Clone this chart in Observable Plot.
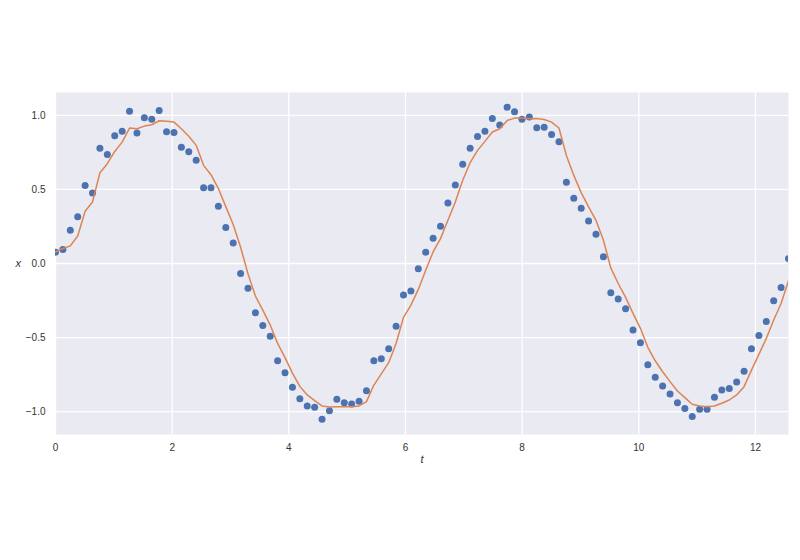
<!DOCTYPE html>
<html>
<head>
<meta charset="utf-8">
<script src="https://cdn.jsdelivr.net/npm/d3@7"></script>
<script src="https://cdn.jsdelivr.net/npm/@observablehq/plot@0.6"></script>
<style>
  html, body { margin: 0; padding: 0; background: #ffffff; }
  #chart svg { display: block; }
</style>
</head>
<body>
<div id="chart"></div>
<script>
// Measurement index 0..99, sampled evenly over t in [0, 4π]
const nSamples = 100;
const tMax = 4 * Math.PI;

// Observed (noisy) values — blue dots
const observed = [
  0.076, 0.094, 0.225, 0.315, 0.526, 0.476, 0.778, 0.737, 0.863, 0.894,
  1.029, 0.881, 0.984, 0.975, 1.034, 0.890, 0.885, 0.786, 0.755, 0.697,
  0.512, 0.512, 0.386, 0.243, 0.139, -0.067, -0.168, -0.333, -0.418, -0.492,
  -0.657, -0.738, -0.836, -0.913, -0.962, -0.971, -1.052, -0.994, -0.917, -0.940,
  -0.949, -0.931, -0.859, -0.657, -0.643, -0.576, -0.423, -0.212, -0.185, -0.036,
  0.076, 0.171, 0.252, 0.409, 0.530, 0.670, 0.778, 0.858, 0.894, 0.980,
  0.935, 1.056, 1.025, 0.975, 0.989, 0.917, 0.921, 0.872, 0.823, 0.548,
  0.440, 0.373, 0.287, 0.198, 0.045, -0.198, -0.239, -0.306, -0.450, -0.535,
  -0.684, -0.769, -0.827, -0.881, -0.940, -0.980, -1.034, -0.985, -0.985, -0.904,
  -0.854, -0.845, -0.800, -0.728, -0.576, -0.486, -0.391, -0.252, -0.162, 0.033
];

// Estimated (smoothed) values — orange line
const estimated = [
  0.078, 0.101, 0.119, 0.186, 0.353, 0.416, 0.613, 0.674, 0.757, 0.820,
  0.915, 0.910, 0.928, 0.937, 0.964, 0.960, 0.955, 0.910, 0.860, 0.798,
  0.663, 0.600, 0.506, 0.384, 0.263, 0.110, -0.070, -0.220, -0.315, -0.416,
  -0.540, -0.636, -0.740, -0.830, -0.888, -0.926, -0.962, -0.969, -0.967, -0.967,
  -0.967, -0.962, -0.933, -0.821, -0.746, -0.670, -0.540, -0.364, -0.281, -0.175,
  -0.045, 0.078, 0.168, 0.292, 0.416, 0.562, 0.681, 0.764, 0.825, 0.888,
  0.910, 0.966, 0.982, 0.982, 0.978, 0.980, 0.973, 0.955, 0.915, 0.730,
  0.595, 0.479, 0.382, 0.292, 0.157, -0.030, -0.135, -0.229, -0.337, -0.438,
  -0.566, -0.657, -0.731, -0.798, -0.861, -0.906, -0.951, -0.962, -0.967, -0.962,
  -0.944, -0.922, -0.888, -0.832, -0.720, -0.614, -0.506, -0.382, -0.270, -0.117
];

const xTicks = [0, 2, 4, 6, 8, 10, 12];
const yTicks = [-1.0, -0.5, 0.0, 0.5, 1.0];

const tValues = d3.range(nSamples).map(i => i * tMax / (nSamples - 1));
const obsData = tValues.map((t, i) => ({t, x: observed[i]}));
const estData = tValues.map((t, i) => ({t, x: estimated[i]}));

const fmt = d => d.toFixed(1).replace("-", "\u2212");

const chart = Plot.plot({
  width: 800,
  height: 560,
  marginLeft: 55,
  marginRight: 12,
  marginTop: 92,
  marginBottom: 126,
  style: {fontFamily: "'Liberation Sans', Arial, sans-serif", fontSize: "10px", color: "#333", background: "#ffffff"},
  x: {domain: [0, tMax]},
  y: {domain: [-1.155, 1.155]},
  marks: [
    Plot.frame({fill: "#eaeaf2", stroke: null}),
    Plot.ruleX(xTicks, {stroke: "#ffffff", strokeWidth: 1.3}),
    Plot.ruleY(yTicks, {stroke: "#ffffff", strokeWidth: 1.3}),
    Plot.axisX({ticks: xTicks, tickSize: 0, tickPadding: 9, label: null, tickFormat: d => String(d), fill: "#333"}),
    Plot.axisY({ticks: yTicks, tickSize: 0, tickPadding: 10, label: null, tickFormat: fmt, fill: "#333"}),
    Plot.dot(obsData, {x: "t", y: "x", r: 3.5, fill: "#4c72b0", stroke: null, clip: true}),
    Plot.line(estData, {x: "t", y: "x", stroke: "#dd8452", strokeWidth: 1.5, clip: true}),
    Plot.text(["t"], {frameAnchor: "bottom", dy: 28, fontStyle: "italic", fontSize: 11, fill: "#333"}),
    Plot.text(["x"], {frameAnchor: "left", dx: -40, fontStyle: "italic", fontSize: 11, fill: "#333"})
  ]
});
document.getElementById("chart").appendChild(chart);
</script>
</body>
</html>
